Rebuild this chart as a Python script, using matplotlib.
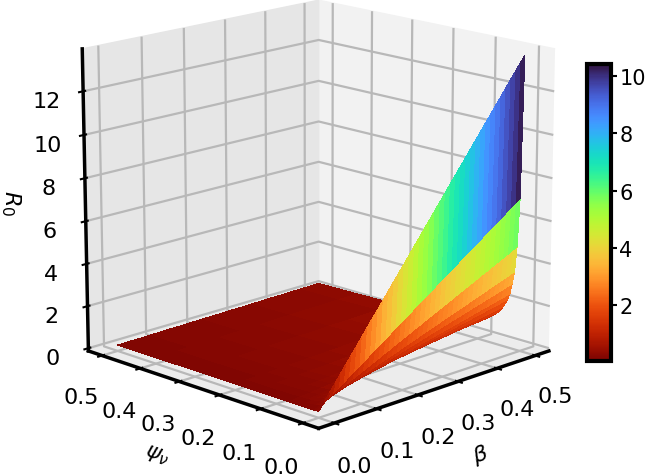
import numpy as np
import matplotlib
matplotlib.use("Agg")
import matplotlib.pyplot as plt

# fine steps in beta for the steep part next to psi = 0
beta_near = [0.0, 0.0125, 0.025, 0.0375, 0.05, 0.0625, 0.075, 0.0875, 0.1, 0.1125,
             0.125, 0.1375, 0.15, 0.1625, 0.175, 0.1875, 0.2, 0.2125, 0.225, 0.2375,
             0.25, 0.2625, 0.275, 0.2875, 0.3, 0.3125, 0.325, 0.3375, 0.35, 0.3625,
             0.375, 0.3875, 0.4, 0.4125, 0.425, 0.4375, 0.45, 0.4625, 0.475, 0.4875, 0.5]
psi_near = [0.0, 0.005, 0.01, 0.015, 0.02, 0.025, 0.03, 0.04]
r0_near = [
    [0, 0.34, 0.68, 1.01, 1.35, 1.69, 2.03, 2.36, 2.70, 3.04, 3.38, 3.71, 4.05, 4.39, 4.73, 5.06, 5.40, 5.74, 6.08, 6.41, 6.75,
     7.09, 7.43, 7.76, 8.10, 8.44, 8.78, 9.11, 9.45, 9.79, 10.13, 10.46, 10.80, 11.14, 11.48, 11.81, 12.15, 12.49, 12.83, 13.16, 13.50],
    [0, 0.17, 0.35, 0.52, 0.69, 0.86, 1.04, 1.21, 1.38, 1.55, 1.73, 1.90, 2.07, 2.24, 2.42, 2.59, 2.76, 2.93, 3.11, 3.28, 3.45,
     3.62, 3.80, 3.97, 4.14, 4.31, 4.49, 4.66, 4.83, 5.00, 5.18, 5.35, 5.52, 5.69, 5.87, 6.04, 6.21, 6.38, 6.56, 6.73, 6.90],
    [0, 0.12, 0.23, 0.35, 0.46, 0.58, 0.69, 0.81, 0.92, 1.04, 1.15, 1.27, 1.38, 1.50, 1.61, 1.73, 1.84, 1.96, 2.07, 2.19, 2.30,
     2.42, 2.53, 2.65, 2.76, 2.88, 2.99, 3.11, 3.22, 3.34, 3.45, 3.57, 3.68, 3.80, 3.91, 4.03, 4.14, 4.26, 4.37, 4.49, 4.60],
    [0, 0.09, 0.17, 0.26, 0.34, 0.43, 0.51, 0.60, 0.68, 0.77, 0.85, 0.94, 1.02, 1.11, 1.19, 1.28, 1.36, 1.45, 1.53, 1.62, 1.70,
     1.79, 1.87, 1.96, 2.04, 2.13, 2.21, 2.30, 2.38, 2.47, 2.55, 2.64, 2.72, 2.81, 2.89, 2.98, 3.06, 3.15, 3.23, 3.32, 3.40],
    [0, 0.07, 0.14, 0.21, 0.28, 0.35, 0.42, 0.49, 0.56, 0.63, 0.70, 0.77, 0.84, 0.91, 0.98, 1.05, 1.12, 1.19, 1.26, 1.33, 1.40,
     1.47, 1.54, 1.61, 1.68, 1.75, 1.82, 1.89, 1.96, 2.03, 2.10, 2.17, 2.24, 2.31, 2.38, 2.45, 2.52, 2.59, 2.66, 2.73, 2.80],
    [0, 0.06, 0.12, 0.17, 0.23, 0.29, 0.35, 0.40, 0.46, 0.52, 0.58, 0.63, 0.69, 0.75, 0.81, 0.86, 0.92, 0.98, 1.04, 1.09, 1.15,
     1.21, 1.27, 1.32, 1.38, 1.44, 1.50, 1.55, 1.61, 1.67, 1.73, 1.78, 1.84, 1.90, 1.96, 2.01, 2.07, 2.13, 2.19, 2.24, 2.30],
    [0, 0.05, 0.10, 0.15, 0.20, 0.25, 0.30, 0.35, 0.40, 0.45, 0.50, 0.55, 0.60, 0.65, 0.70, 0.75, 0.80, 0.85, 0.90, 0.95, 1.00,
     1.05, 1.10, 1.15, 1.20, 1.25, 1.30, 1.35, 1.40, 1.45, 1.50, 1.55, 1.60, 1.65, 1.70, 1.75, 1.80, 1.85, 1.90, 1.95, 2.00],
    [0, 0.04, 0.08, 0.12, 0.16, 0.20, 0.24, 0.28, 0.32, 0.36, 0.40, 0.44, 0.48, 0.52, 0.56, 0.60, 0.64, 0.68, 0.72, 0.76, 0.80,
     0.84, 0.88, 0.92, 0.96, 1.00, 1.04, 1.08, 1.12, 1.16, 1.20, 1.24, 1.28, 1.32, 1.36, 1.40, 1.44, 1.48, 1.52, 1.56, 1.60],
]

# the rest of the surface, nearly flat
beta_far = [0.0, 0.025, 0.05, 0.075, 0.1, 0.125, 0.15, 0.175, 0.2, 0.225, 0.25,
            0.275, 0.3, 0.325, 0.35, 0.375, 0.4, 0.425, 0.45, 0.475, 0.5]
psi_far = [0.04, 0.05, 0.07, 0.1, 0.15, 0.2, 0.3, 0.4, 0.5]
r0_far = [
    [0, 0.08, 0.16, 0.24, 0.32, 0.40, 0.48, 0.56, 0.64, 0.72, 0.80, 0.88, 0.96, 1.04, 1.12, 1.20, 1.28, 1.36, 1.44, 1.52, 1.60],
    [0, 0.07, 0.13, 0.20, 0.26, 0.33, 0.39, 0.46, 0.52, 0.59, 0.65, 0.72, 0.78, 0.85, 0.91, 0.98, 1.04, 1.11, 1.17, 1.24, 1.30],
    [0, 0.05, 0.09, 0.14, 0.19, 0.24, 0.28, 0.33, 0.38, 0.42, 0.47, 0.52, 0.56, 0.61, 0.66, 0.71, 0.75, 0.80, 0.85, 0.89, 0.94],
    [0, 0.03, 0.07, 0.10, 0.13, 0.17, 0.20, 0.23, 0.26, 0.30, 0.33, 0.36, 0.40, 0.43, 0.46, 0.50, 0.53, 0.56, 0.59, 0.63, 0.66],
    [0, 0.02, 0.04, 0.07, 0.09, 0.11, 0.13, 0.15, 0.18, 0.20, 0.22, 0.24, 0.26, 0.29, 0.31, 0.33, 0.35, 0.37, 0.40, 0.42, 0.44],
    [0, 0.02, 0.03, 0.05, 0.07, 0.09, 0.10, 0.12, 0.14, 0.15, 0.17, 0.19, 0.20, 0.22, 0.24, 0.26, 0.27, 0.29, 0.31, 0.32, 0.34],
    [0, 0.01, 0.02, 0.04, 0.05, 0.06, 0.07, 0.08, 0.10, 0.11, 0.12, 0.13, 0.14, 0.16, 0.17, 0.18, 0.19, 0.20, 0.22, 0.23, 0.24],
    [0, 0.01, 0.02, 0.03, 0.04, 0.05, 0.05, 0.06, 0.07, 0.08, 0.09, 0.10, 0.11, 0.12, 0.13, 0.14, 0.14, 0.15, 0.16, 0.17, 0.18],
    [0, 0.01, 0.01, 0.02, 0.03, 0.04, 0.04, 0.05, 0.06, 0.06, 0.07, 0.08, 0.08, 0.09, 0.10, 0.11, 0.11, 0.12, 0.13, 0.13, 0.14],
]
# the whole surface sits a little above the floor
r0_base = 0.15

xticks = [0.0, 0.1, 0.2, 0.3, 0.4, 0.5]
zticks = [0, 2, 4, 6, 8, 10, 12]
cbar_ticks = [2, 4, 6, 8, 10]

plt.rcParams["font.size"] = 16
plt.rcParams["grid.linewidth"] = 1.6
plt.rcParams["grid.color"] = "#b8b8b8"
plt.rcParams["xtick.major.width"] = 1.5
plt.rcParams["ytick.major.width"] = 1.5

fig = plt.figure(figsize=(6.46, 4.77), dpi=100)
ax = fig.add_axes([-0.019, -0.057, 1.0, 1.23], projection="3d", computed_zorder=False)

style = dict(cmap="turbo_r", rstride=1, cstride=1, linewidth=0, antialiased=False,
             vmin=0.05, vmax=10.42)
X, Y = np.meshgrid(beta_far, psi_far)
ax.plot_surface(X, Y, np.array(r0_far) + r0_base, **style)
X, Y = np.meshgrid(beta_near, psi_near)
surf = ax.plot_surface(X, Y, np.array(r0_near) + r0_base, **style)

ax.view_init(elev=15.5, azim=-135)
ax.set_box_aspect((4, 4, 3.8), zoom=0.93)
ax.set_xticks(xticks)
ax.set_yticks(xticks)
ax.set_zticks(zticks)
ax.set_xlabel(r"$\beta$", labelpad=17)
ax.set_ylabel(r"$\psi_\nu$", labelpad=17)
ax.zaxis.set_rotate_label(False)
ax.set_zlabel(r"$R_0$", rotation=-90, labelpad=14)
ax.tick_params(axis="x", pad=10)
ax.tick_params(axis="y", pad=11)
ax.tick_params(axis="z", pad=9)

ax.xaxis.set_pane_color((0.95, 0.95, 0.95, 1.0))
ax.yaxis.set_pane_color((0.90, 0.90, 0.90, 1.0))
ax.zaxis.set_pane_color((0.925, 0.925, 0.925, 1.0))
for axis in (ax.xaxis, ax.yaxis, ax.zaxis):
    axis.line.set_linewidth(2.5)
    axis.line.set_color("black")

cax = fig.add_axes([0.909, 0.241, 0.037, 0.623])
cbar = fig.colorbar(surf, cax=cax, ticks=cbar_ticks)
cbar.ax.tick_params(labelsize=15, length=4, pad=2)
cbar.outline.set_linewidth(3)

fig.savefig("out.png", dpi=100)
